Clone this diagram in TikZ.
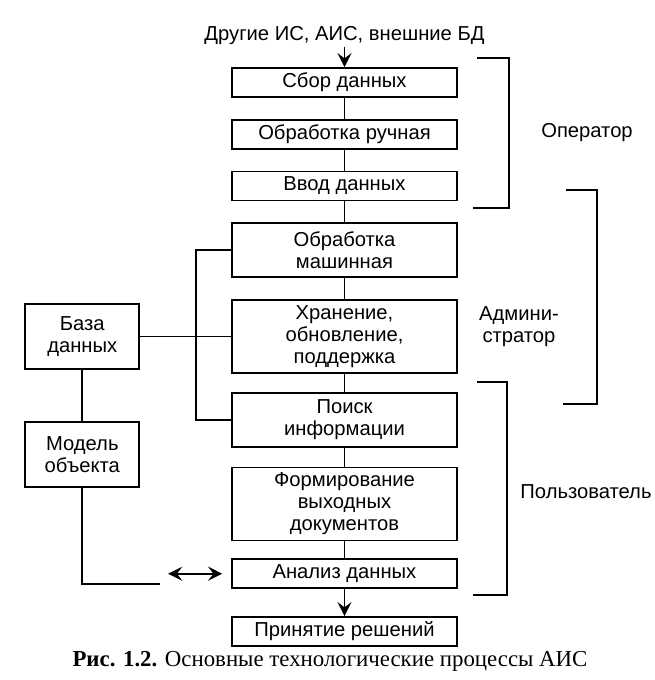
\documentclass[tikz,border=0pt]{standalone}
\usepackage{fontspec}
\setmainfont{Liberation Sans}
\newfontfamily\capfont{Liberation Serif}
\usetikzlibrary{positioning}
\usetikzlibrary{arrows.meta}
\tikzset{main node/.style={rectangle,draw,line width=1pt,minimum width=4.5cm,minimum height=0.58cm,inner sep=1pt,align=center,font=\fontsize{11.5}{12.5}\selectfont},}
\tikzset{side node/.style={main node,minimum width=2.28cm,minimum height=1.3cm},}
\tikzset{role node/.style={align=center,inner sep=1pt,font=\fontsize{11.5}{12.5}\selectfont},}

\begin{document}
\begin{tikzpicture}[x=0.02cm,y=-0.02cm,line width=1pt,node distance=0.42cm,
    >={Stealth[length=8pt,width=8pt,inset=3pt]}]
      \useasboundingbox (0,0) rectangle (655,680);

      \node[main node] (1) at (344.5,82.5) {Сбор данных};
      \node[main node] (2) [below=of 1] {Обработка ручная};
      \node[main node] (3) [below=of 2] {Ввод данных};
      \node[main node,minimum height=1.08cm] (4) [below=0.42cm of 3] {Обработка\\машинная};
      \node[main node,minimum height=1.46cm] (5) [below=0.42cm of 4] {Хранение,\\обновление,\\поддержка};
      \node[main node,minimum height=1.08cm] (6) [below=0.36cm of 5] {Поиск\\информации};
      \node[main node,minimum height=1.46cm] (7) [below=0.38cm of 6] {Формирование\\выходных\\документов};
      \node[main node] (8) [below=0.34cm of 7] {Анализ данных};
      \node[main node] (9) [below=0.54cm of 8] {Принятие решений};

      \node[side node] (10) [left=1.82cm of 5] {База\\данных};
      \node[side node] (11) [below=1.02cm of 10] {Модель\\объекта};

      \node[role node] (12) [above=0.4cm of 1] {Другие ИС, АИС, внешние БД};

      %\draw[->] (12) -- (1)
      \path[draw][->]
        (12) edge node {} (1)
        (8) edge node {} (9);

      \path[draw]
        (1) edge node {} (2)
        (2) edge node {} (3)
        (3) edge node {} (4)
        (4) edge node {} (5)
        (5) edge node {} (6)
        (6) edge node {} (7)
        (7) edge node {} (8)
        (10) edge node {} (5)
        (10) edge node {} (11);

      \draw (4.west) -- ++(-35,0) |- (6.west);

      \coordinate[below left=0.2cm and 1.42cm of 8.west] (13);
      \coordinate[left=0.18cm of 8.west] (14);
      \coordinate[left=1.26cm of 8.west] (15);
      \draw (11) |- (13);
      \draw[<->] (15) -- (14);

      % brackets
      \draw (477,58) -| (509,208) -- (473,208);
      \draw (566,190) -| (597,404) -- (563,404);
      \draw (477,382) -| (507,595) -- (473,595);

      \node[role node] (16) at (587,133) {Оператор};
      \node[role node] (17) at (519,327) {Админи-\\стратор};
      \node[role node] (18) at (586,492) {Пользователь};

      \node[inner sep=1pt,font=\capfont\fontsize{13}{15}\selectfont] (19) at (330,661)
        {\textbf{Рис. 1.2.} Основные технологические процессы АИС};
    \end{tikzpicture}
\end{document}
